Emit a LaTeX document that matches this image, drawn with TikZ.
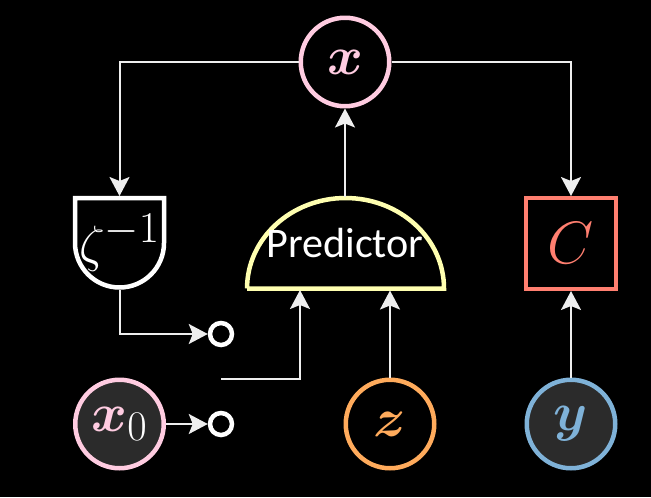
\documentclass[tikz,border=0pt]{standalone}
\usepackage{fix-cm}
\usepackage{amsmath}
\usepackage{fontspec}
\setmainfont{Carlito}
\usepackage{tikz}
\usetikzlibrary{arrows.meta}

\definecolor{pinkline}{HTML}{FFCCE1}
\definecolor{yellowline}{HTML}{FFFFB0}
\definecolor{redline}{HTML}{FF7F70}
\definecolor{orangeline}{HTML}{FFAB5C}
\definecolor{blueline}{HTML}{7FB2D8}
\definecolor{linkgray}{HTML}{EEEEEE}
\definecolor{darkfill}{HTML}{2B2B2B}

\begin{document}
\begin{tikzpicture}[
    x=0.02cm, y=-0.02cm,
    var/.style={circle, draw, line width=0.09cm, minimum size=1.77cm, inner sep=0pt, font=\fontsize{31}{36}\selectfont},
    observed/.style={var, fill=darkfill},
    sink/.style={circle, draw=white, line width=0.09cm, minimum size=0.44cm, inner sep=0pt},
    block/.style={inner sep=0pt, outer sep=0pt},
    outline/.style={line width=0.09cm, line join=miter},
    link/.style={draw=linkgray, line width=0.04cm, -{Stealth[length=0.38cm, width=0.4cm, inset=0.08cm]}},
]

% background
\fill[black] (0,0) rectangle (651,497);
\useasboundingbox (0,0) rectangle (651,497);

% blocks
\draw[outline, white] (75,198) -- (164,198) -- (164,243) arc[start angle=0, end angle=-180, radius=0.89cm] -- cycle;
\draw[outline, yellowline] (247,288.5) -- (444,288.5) arc[start angle=0, end angle=180, x radius=1.97cm, y radius=1.81cm] -- cycle;
\draw[outline, redline] (526,198) rectangle (616,289);

\node[block, minimum width=1.86cm, minimum height=1.88cm, text=white] (zeta) at (119.5,243) {\fontsize{29}{34}\selectfont$\zeta^{\mbox{\fontsize{25}{30}\selectfont$-1$}}$};
\node[block, minimum width=4.02cm, minimum height=1.88cm, text=white, font=\fontsize{24}{28}\selectfont] (pred) at (345,243.5) {Predictor};
\node[block, minimum width=1.88cm, minimum height=1.9cm, text=redline, font=\fontsize{34}{40}\selectfont] (cost) at (571,243.5) {$C$};

% variables
\node[var, draw=pinkline, text=pinkline] (x) at (345,62) {$\boldsymbol{x}$};
\node[observed, draw=pinkline, text=pinkline] (x0) at (119.5,424) {$\boldsymbol{x}_{\mbox{\fontsize{24}{28}\selectfont\color{white}$0$}}$};
\node[var, draw=orangeline, text=orangeline] (z) at (390,424) {$\boldsymbol{z}$};
\node[observed, draw=blueline, text=blueline] (y) at (571,424) {$\boldsymbol{y}$};

\node[sink] (sinka) at (221,334) {};
\node[sink] (sinkb) at (221,424) {};
\coordinate (feed) at (221,379);
\coordinate (predin) at (300,290);

% connectors
\draw[link] (x) -| (zeta);
\draw[link] (x) -| (cost);
\draw[link] (pred.north) -- (x.south);
\draw[link] (zeta.south) |- (sinka);
\draw[link] (x0) -- (sinkb);
\draw[link] (feed) -| (predin);
\draw[link] (z.north) -- (z.north |- pred.south);
\draw[link] (y) -- (cost);

\end{tikzpicture}
\end{document}
